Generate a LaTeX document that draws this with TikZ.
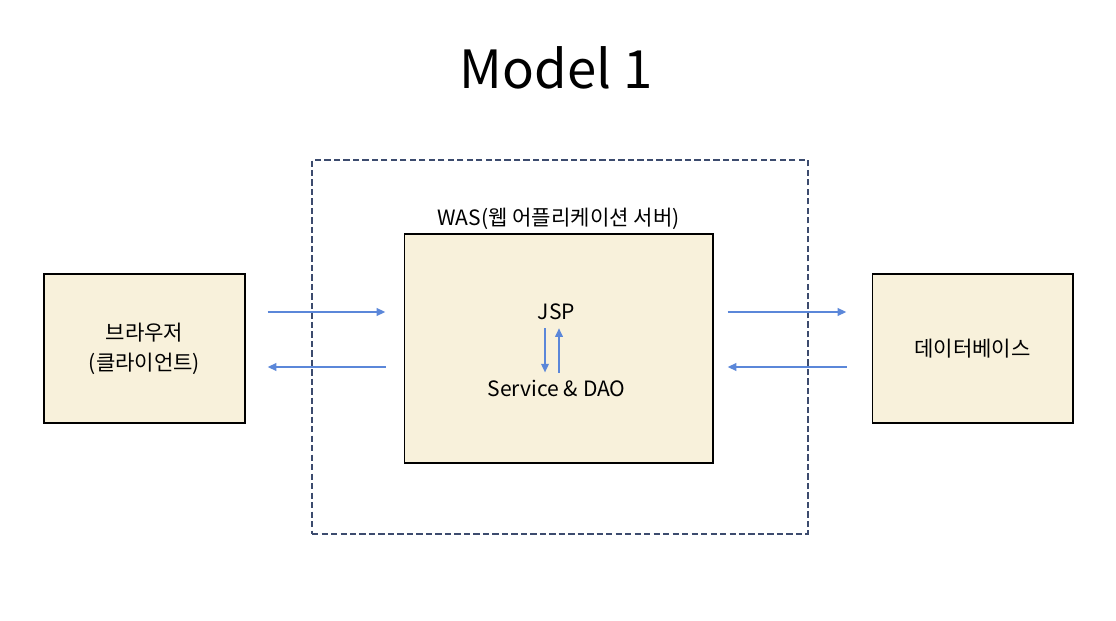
\documentclass[tikz,border=0pt]{standalone}
\usepackage{fontspec}
\setmainfont{Noto Sans CJK KR}
\usetikzlibrary{arrows.meta,positioning}

\definecolor{boxfill}{RGB}{248,241,219}
\definecolor{flowblue}{RGB}{91,135,217}
\definecolor{framenavy}{RGB}{60,75,110}

\tikzset{
  box/.style={draw=black, line width=0.6pt, fill=boxfill, align=center,
    font=\fontsize{12}{17}\selectfont},
  flow/.style={flowblue, line width=1.3pt, -{Triangle[length=5pt,width=4.2pt]}},
  label/.style={font=\fontsize{12}{14}\selectfont, inner sep=1pt}
}

\begin{document}
\begin{tikzpicture}[x=0.02cm, y=-0.02cm]
\useasboundingbox (0,0) rectangle (1116,621);
\node[font=\fontsize{30}{36}\selectfont\addfontfeatures{FakeBold=0}] (title) at (556,68) {Model 1};
% WAS frame
\node[draw=framenavy, line width=1.3pt, dash pattern=on 3.6pt off 1.8pt,
  minimum width=9.92cm, minimum height=7.48cm] (frame) at (560,347) {};
\node[box, minimum width=4.02cm, minimum height=2.98cm] (browser) at (144.5,348.5) {브라우저\\(클라이언트)};
\node[box, minimum width=6.18cm, minimum height=4.58cm] (was) at (558.5,348.5) {};
\node[box, minimum width=4.02cm, minimum height=2.98cm] (db) at (972.5,348.5) {데이터베이스};
\node[label, above=1pt of was] (waslabel) {WAS(웹 어플리케이션 서버)};
\node[label] (jsp) at (556.5,312) {JSP};
\node[label] (svc) at (556.5,388) {Service \& DAO};
% request / response rows
\coordinate (req) at (0,312);
\coordinate (res) at (0,367);
\draw[flow, shorten <=0.44cm, shorten >=0.36cm] (browser.east |- req) -- (was.west |- req);
\draw[flow, shorten <=0.36cm, shorten >=0.44cm] (was.west |- res) -- (browser.east |- res);
\draw[flow, shorten <=0.28cm, shorten >=0.5cm] (was.east |- req) -- (db.west |- req);
\draw[flow, shorten <=0.5cm, shorten >=0.28cm] (db.west |- res) -- (was.east |- res);
% inside WAS
\draw[flow] ([xshift=-0.23cm, yshift=-0.12cm]jsp.south) -- ([xshift=-0.23cm, yshift=0.1cm]svc.north);
\draw[flow] ([xshift=0.05cm, yshift=0.1cm]svc.north) -- ([xshift=0.05cm, yshift=-0.12cm]jsp.south);
\end{tikzpicture}
\end{document}
